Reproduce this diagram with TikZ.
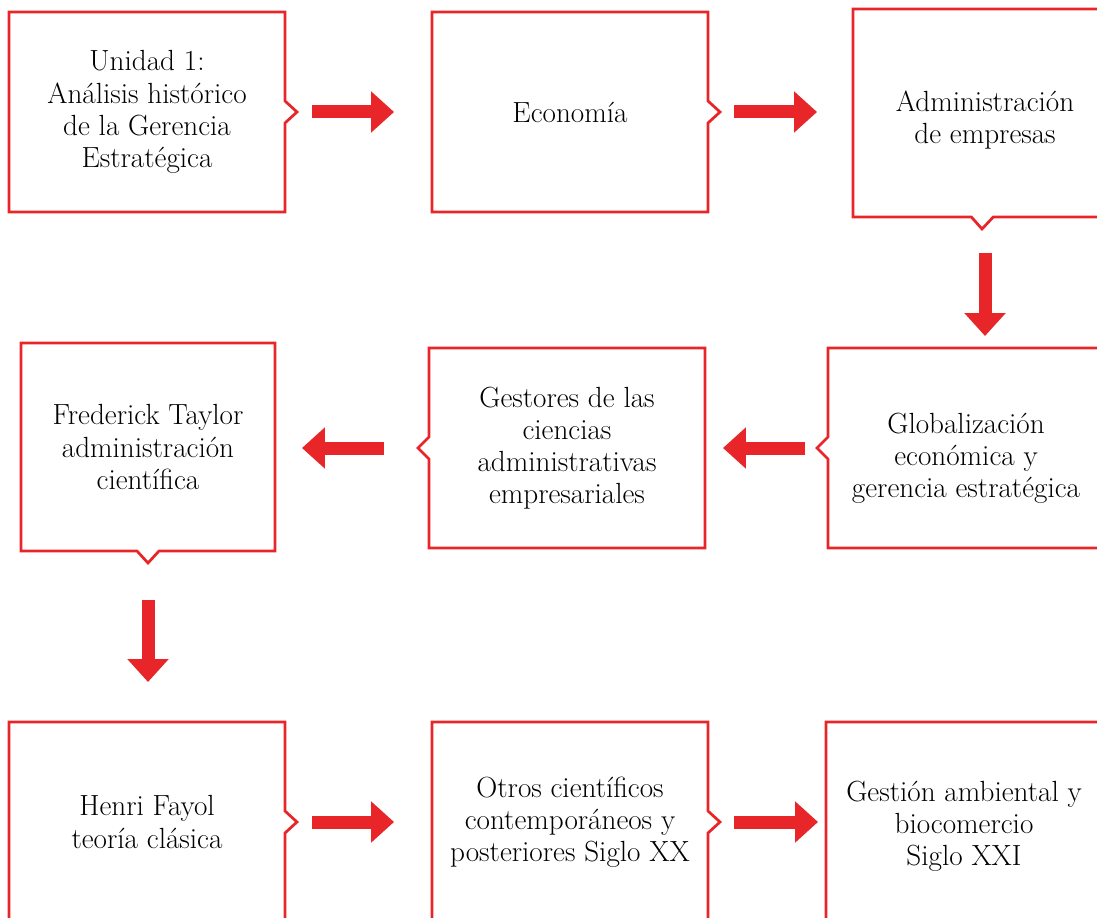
\documentclass[tikz,border=0pt]{standalone}
\usetikzlibrary{arrows.meta,shapes.callouts}
\definecolor{rojo}{RGB}{232,38,42}

\begin{document}
\begin{tikzpicture}[x=0.02cm,y=-0.02cm]
\tikzstyle{every node}+=[inner sep=0pt, outer sep=0pt]
\tikzstyle{texto}=[align=center, font=\fontsize{16.6}{18.3}\selectfont]
\tikzstyle{caja}=[rectangle callout, draw=rojo, line width=0.055cm, texto,
  callout pointer width=0.44cm, minimum width=5.52cm, minimum height=4cm]
\tikzstyle{flecha}=[color=rojo, line width=0.26cm, -{Triangle[length=0.46cm,width=0.8cm]}]
\useasboundingbox (0,0) rectangle (1097,918);
\clip (0,0) rectangle (1097,918);
\node [caja, callout absolute pointer={(297,112)}] (u1) at (147,112)
  {Unidad 1:\\Análisis histórico\\de la Gerencia\\Estratégica};
\node [caja, callout absolute pointer={(720,112)}] (eco) at (570,112) {Economía};
\node [caja, minimum width=5.28cm, minimum height=4.16cm,
  callout absolute pointer={(982,229)},
  label={[texto, yshift=-0.14cm]center:Administración\\de empresas}] (adm) at (985,113) {};
\node [caja, callout absolute pointer={(817,448)},
  label={[texto, yshift=-0.2cm]center:Globalización\\económica y\\gerencia estratégica}] (glob) at (966,448) {};
\node [caja, callout absolute pointer={(418,448)}] (gest) at (567,448)
  {Gestores de las\\ciencias\\administrativas\\empresariales};
\node [caja, minimum width=5.08cm, minimum height=4.16cm,
  callout absolute pointer={(148,563)}] (tay) at (148,447)
  {Frederick Taylor\\administración\\científica};
\node [caja, callout absolute pointer={(297,822)}] (fay) at (147,822)
  {Henri Fayol\\teoría clásica};
\node [caja, callout absolute pointer={(720,822)}] (otros) at (570,822)
  {Otros científicos\\contemporáneos y\\posteriores Siglo XX};
\node [caja, label={[texto, yshift=-0.08cm]center:Gestión ambiental y\\biocomercio\\Siglo XXI}] (amb) at (964,822) {};
\draw [flecha, shorten <=0.54cm, shorten >=0.76cm] (u1.east) -- (eco.west);
\draw [flecha, shorten <=0.52cm, shorten >=0.72cm] (eco.east) -- (eco.east -| adm.west);
\draw [flecha, shorten <=0.72cm, shorten >=0.24cm] (adm.south) -- (adm.south |- glob.north);
\draw [flecha, shorten <=0.46cm, shorten >=0.36cm] (glob.west) -- (gest.east);
\draw [flecha, shorten <=0.9cm, shorten >=0.54cm] (gest.west) -- (gest.west -| tay.east);
\draw [flecha, shorten <=0.98cm, shorten >=0.8cm] (tay.south) -- (tay.south |- fay.north);
\draw [flecha, shorten <=0.54cm, shorten >=0.76cm] (fay.east) -- (otros.west);
\draw [flecha, shorten <=0.52cm, shorten >=0.16cm] (otros.east) -- (amb.west);
\end{tikzpicture}
\end{document}
